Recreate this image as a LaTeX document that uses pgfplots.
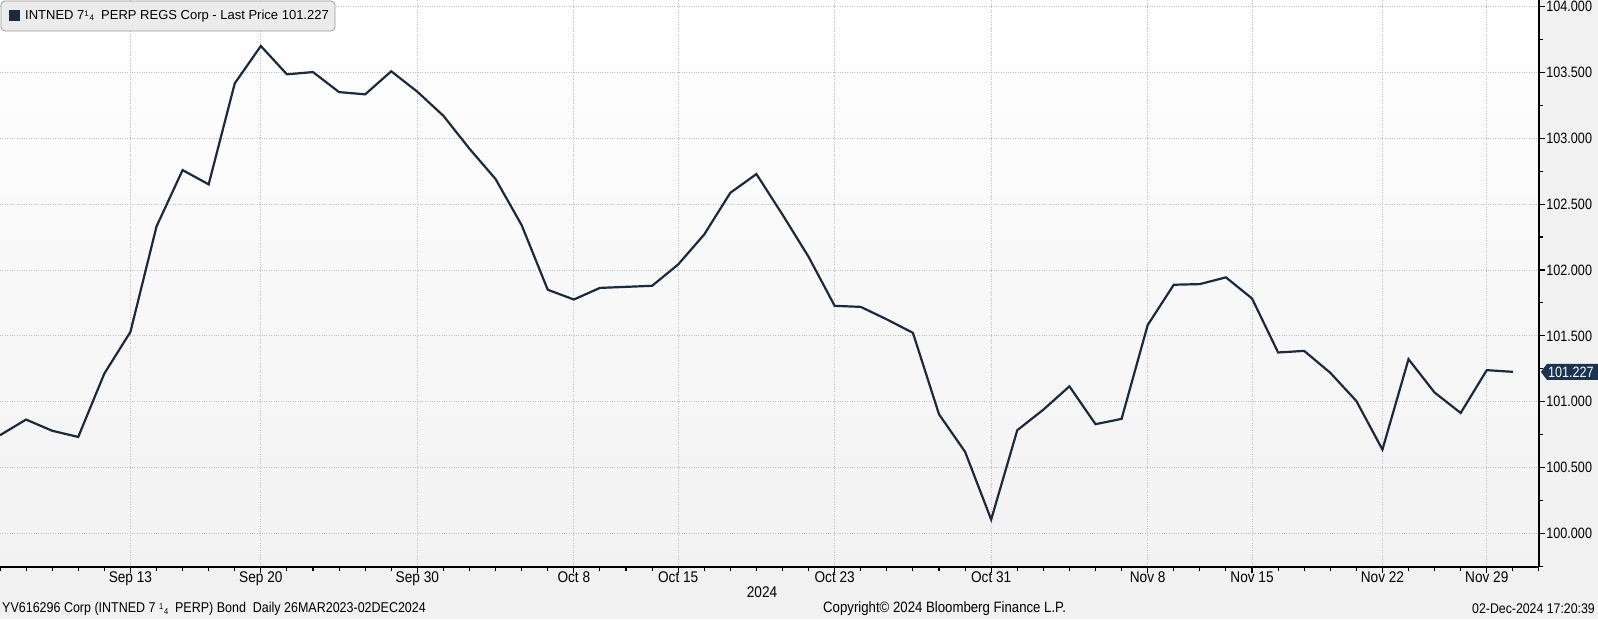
\documentclass[border=0pt]{standalone}
\usepackage{fontspec}
\setmainfont{Liberation Sans}
\newfontfamily\narrow[FakeStretch=0.88]{Liberation Sans}
\newfontfamily\ylab[FakeStretch=0.84]{Liberation Sans}
\usepackage{pgfplots}
\pgfplotsset{compat=1.18}
\definecolor{navy}{HTML}{1B2A3D}
\definecolor{tagnavy}{HTML}{1B3250}
\definecolor{bgout}{HTML}{F1F1F1}
\definecolor{plotbot}{HTML}{F2F2F2}
\definecolor{gridc}{HTML}{BDBDBD}
\definecolor{legfill}{HTML}{EBEBEB}
\definecolor{legdraw}{HTML}{9A9A9A}
\newcommand\qtr[1]{\raisebox{.45ex}{\fontsize{#1}{#1}\selectfont 1}\kern.05em\raisebox{-.2ex}{\fontsize{#1}{#1}\selectfont 4}}
\pgfplotstableread{
x y
0 100.746
1 100.865
2 100.780
3 100.733
4 101.214
5 101.530
6 102.330
7 102.758
8 102.650
9 103.416
10 103.700
11 103.485
12 103.502
13 103.350
14 103.333
15 103.508
16 103.353
17 103.170
18 102.920
19 102.690
20 102.340
21 101.850
22 101.776
23 101.864
24 101.872
25 101.880
26 102.042
27 102.270
28 102.586
29 102.728
30 102.420
31 102.100
32 101.728
33 101.720
34 101.625
35 101.523
36 100.905
37 100.620
38 100.106
39 100.784
40 100.940
41 101.117
42 100.830
43 100.870
44 101.582
45 101.888
46 101.893
47 101.944
48 101.784
49 101.374
50 101.386
51 101.220
52 101.006
53 100.637
54 101.323
55 101.070
56 100.915
57 101.240
58 101.227
}\pricedata
\begin{document}
\begin{tikzpicture}[x=1pt,y=1pt]
\fill[bgout] (0,0) rectangle (1598,619);
\shade[top color=white, bottom color=plotbot] (0,52) rectangle (1539,619);
\begin{axis}[
  at={(0pt,52pt)}, anchor=south west,
  scale only axis, width=1539pt, height=567pt,
  xmin=0, xmax=59, ymin=99.746, ymax=104.049,
  axis x line*=bottom, axis y line*=right,
  axis line style={black, line width=1.4pt, -},
  xtick={5,10,16,22,26,32,38,44,48,53,57},
  xticklabels={Sep 13,Sep 20,Sep 30,Oct 8,Oct 15,Oct 23,Oct 31,Nov 8,Nov 15,Nov 22,Nov 29},
  minor xtick={0,1,...,59},
  ytick={100,100.5,...,104},
  minor ytick={99.75,100.25,...,104},
  yticklabel style={font=\ylab\fontsize{15}{15}\selectfont, xshift=-2pt, /pgf/number format/.cd, fixed, fixed zerofill, precision=3, assume math mode=true},
  xticklabel style={font=\narrow\fontsize{15.5}{16}\selectfont, yshift=5pt},
  grid=major,
  major grid style={dotted, gridc, line width=0.8pt},
  tick align=outside,
  major tick length=6pt, minor tick length=4pt,
  tick style={black, line width=1.1pt},
  clip=true,
]
\addplot[navy, line width=2.2pt, mark=none] table[x=x, y=y] {\pricedata};
\coordinate (last) at (axis cs:59,101.227);
\end{axis}
% last price tag
\fill[tagnavy] (last) ++(2,0) -- ++(6,8) -- ++(53,0) -- ++(0,-16) -- ++(-53,0) -- cycle;
\node[white, font=\ylab\fontsize{15}{15}\selectfont, anchor=center, inner sep=0pt] at ([xshift=32pt]last) {101.227};
% legend
\draw[legdraw, fill=legfill, rounded corners=4pt, line width=0.8pt] (1,588) rectangle (335,618);
\fill[navy] (9,598) rectangle (20,609);
\node[anchor=west, inner sep=0pt, font=\fontsize{13}{13}\selectfont] at (25,603) {INTNED 7\qtr{8}\ \ PERP REGS Corp - Last Price 101.227};
% year
\node[font=\narrow\fontsize{15.5}{16}\selectfont, inner sep=0pt] at (762,27) {2024};
% footer
\node[anchor=west, inner sep=0pt, font=\narrow\fontsize{14.2}{15}\selectfont] at (2,10) {YV616296 Corp (INTNED 7 \qtr{8.5}\ \ PERP) Bond\ \ Daily 26MAR2023-02DEC2024};
\node[anchor=west, inner sep=0pt, font=\narrow\fontsize{15}{15}\selectfont] at (823,10) {Copyright© 2024 Bloomberg Finance L.P.};
\node[anchor=east, inner sep=0pt, font=\narrow\fontsize{14}{15}\selectfont] at (1595,10) {02-Dec-2024 17:20:39};
\pgfresetboundingbox
\path[use as bounding box] (0,0) rectangle (1598,619);
\end{tikzpicture}
\end{document}
